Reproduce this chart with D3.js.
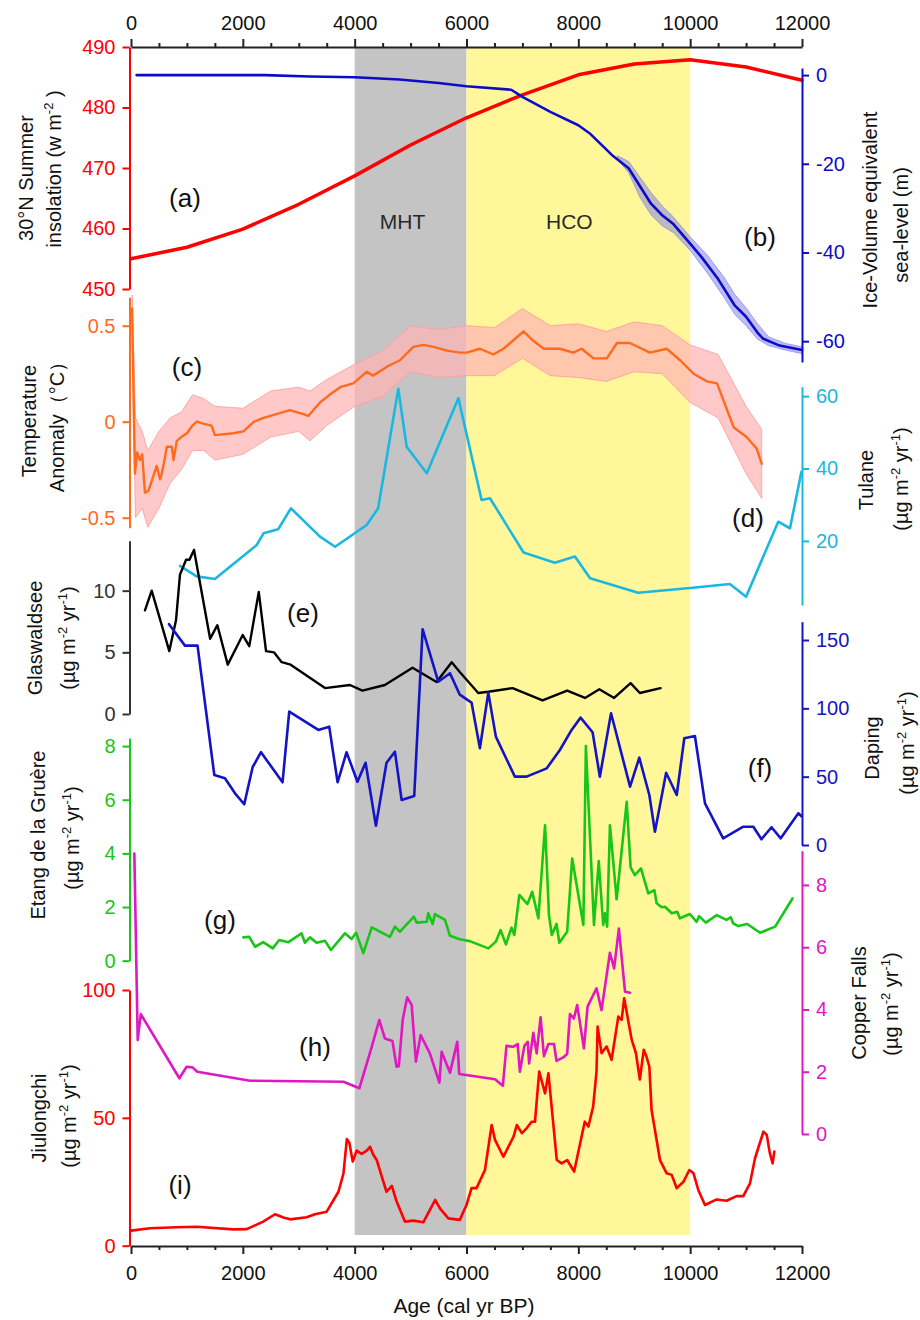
<!DOCTYPE html>
<html>
<head>
<meta charset="utf-8">
<script src="https://cdn.jsdelivr.net/npm/d3@7"></script>
<style>
  body { margin: 0; background: #fff; }
  svg { display: block; }
  text { font-family: "Liberation Sans", Arial, sans-serif; }
</style>
</head>
<body>
<svg id="chart" width="920" height="1320"></svg>
<script>
// ---- Data (age in cal yr BP, value) ----
const xTicks = [0, 2000, 4000, 6000, 8000, 10000, 12000];
const periods = [
  { name: "MHT", from: 4000, to: 6000, fill: "#c4c4c4" },
  { name: "HCO", from: 6000, to: 10000, fill: "#fff799" }
];

// (a) 30°N summer insolation (W m-2)
const insolation = [[0,455],[1000,456.9],[2000,459.9],[3000,464],[4000,468.7],[5000,473.8],[6000,478.3],
  [7000,482.1],[8000,485.4],[9000,487.2],[10000,487.9],[11000,486.7],[12000,484.5]];
const insolationTicks = [450, 460, 470, 480, 490];

// (b) ice-volume equivalent sea level (m) and its uncertainty envelope [age, low, high]
const seaLevel = [[100,0],[1000,0],[2400,0],[3200,-0.3],[4000,-0.5],[4800,-1],[5500,-1.8],[6000,-2.5],[6800,-3.3],
  [7000,-4.9],[7500,-8.3],[8000,-11.3],[8200,-13.1],[8600,-18],[8900,-21],[9100,-25],[9300,-29],[9500,-31.6],
  [9700,-33.6],[10000,-38],[10200,-41],[10500,-46],[10800,-52],[11000,-54.5],[11200,-58],[11300,-59.4],
  [11600,-61],[12000,-62]];
const seaLevelBand = [[8700,-19,-18.2],[8900,-22,-19.5],[9100,-27.5,-23],[9300,-31.5,-26.5],[9500,-34,-29.5],
  [9700,-35.5,-32],[10000,-39.5,-36.5],[10300,-44.5,-40.5],[10600,-50,-45.5],[10800,-54,-49.5],[11000,-56.5,-52.5],
  [11200,-59.5,-56],[11400,-61,-59],[11700,-62,-60.5],[12000,-62.8,-61.3]];
const seaLevelTicks = [0, -20, -40, -60];

// (c) temperature anomaly (°C) and envelope [age, low, high]
const temperature = [[20,0.59],[70,-0.27],[110,-0.16],[160,-0.2],[200,-0.17],[250,-0.37],[310,-0.36],[380,-0.3],
  [460,-0.23],[520,-0.3],[550,-0.27],[600,-0.2],[640,-0.13],[730,-0.13],[760,-0.2],[820,-0.10],[900,-0.08],
  [1000,-0.06],[1100,-0.02],[1175,0.0],[1290,-0.01],[1440,-0.02],[1500,-0.07],[1830,-0.06],[2010,-0.05],
  [2200,0.0],[2370,0.02],[2600,0.04],[2840,0.06],[3080,0.04],[3170,0.03],[3380,0.10],[3550,0.14],[3740,0.18],
  [3975,0.20],[4215,0.26],[4330,0.24],[4600,0.29],[4810,0.32],[5050,0.39],[5230,0.40],[5410,0.39],[5650,0.37],
  [5880,0.36],[6000,0.36],[6240,0.38],[6480,0.35],[6660,0.38],[7020,0.47],[7200,0.42],[7380,0.38],[7670,0.38],
  [7910,0.36],[8060,0.38],[8270,0.33],[8510,0.33],[8690,0.41],[8920,0.41],[9280,0.36],[9580,0.38],[9820,0.32],
  [10060,0.25],[10300,0.21],[10480,0.20],[10780,-0.03],[11010,-0.08],[11190,-0.14],[11280,-0.22]];
const temperatureBand = [[20,0.45,0.66],[80,-0.50,0.02],[200,-0.45,-0.05],[300,-0.55,-0.15],[500,-0.45,-0.05],
  [700,-0.32,0.02],[900,-0.25,0.05],[1100,-0.15,0.14],[1300,-0.15,0.12],[1500,-0.20,0.08],[2000,-0.17,0.07],
  [2500,-0.08,0.16],[3000,-0.05,0.18],[3200,-0.10,0.16],[3500,-0.02,0.22],[4000,0.08,0.30],[4500,0.13,0.37],
  [5000,0.26,0.50],[5500,0.23,0.48],[6000,0.24,0.50],[6500,0.24,0.49],[7000,0.33,0.59],[7500,0.24,0.50],
  [8000,0.23,0.51],[8500,0.21,0.47],[9000,0.26,0.52],[9500,0.25,0.50],[10000,0.10,0.40],[10500,0.02,0.35],
  [11000,-0.27,0.08],[11280,-0.40,-0.04]];
const temperatureTicks = [-0.5, 0, 0.5];

// (d) Tulane (µg m-2 yr-1)
const tulane = [[876,13.1],[1175,10.2],[1500,9.5],[2250,18.9],[2370,22.1],[2630,23.2],[2860,29.0],[3380,21.2],
  [3650,18.4],[4215,24.4],[4420,29.0],[4780,62],[4930,46],[5290,38.7],[5855,59.4],[6270,31.3],[6420,31.8],
  [6660,25.8],[7020,16.8],[7580,14.0],[7940,15.7],[8210,9.7],[9070,5.7],[10000,7.0],[10710,8.1],[11000,4.6],
  [11575,25.3],[11785,23.5],[11990,39.1]];
const tulaneTicks = [20, 40, 60];

// (e) Glaswaldsee (µg m-2 yr-1)
const glaswaldsee = [[250,8.4],[370,10],[685,5.1],[805,7.6],[876,11.3],[985,12.5],[1045,12.5],[1127,13.3],
  [1415,6.1],[1545,7.2],[1730,4.0],[1998,6.4],[2115,5.5],[2285,9.9],[2415,5.1],[2557,5.0],[2695,4.2],[2855,4.0],
  [3470,2.1],[3915,2.35],[4140,1.9],[4540,2.35],[5035,3.75],[5465,2.6],[5735,4.2],[5880,3.4],[6210,1.7],
  [6390,1.8],[6825,2.1],[7360,1.1],[7800,1.9],[8120,1.3],[8375,2.0],[8640,1.3],[8935,2.5],[9100,1.7],[9470,2.1]];
const glaswaldseeTicks = [0, 5, 10];

// (f) Daping (µg m-2 yr-1)
const daping = [[680,161.6],[965,145.9],[1190,145.9],[1490,51.2],[1680,48.8],[1860,37.8],[2025,29.8],[2175,56.9],
  [2325,67.9],[2710,45.9],[2830,97.6],[3350,84.2],[3545,86.6],[3695,45.9],[3855,67.9],[4050,46.3],[4195,60.2],
  [4380,14.1],[4570,60.2],[4720,68.3],[4840,32.9],[5065,35.9],[5215,157.9],[5495,119.5],[5705,125.7],[5880,110],
  [6090,104.2],[6240,70.8],[6390,111.5],[6525,79.3],[6865,50.0],[7075,50.0],[7435,56.1],[7670,69.5],[7880,84.2],
  [8040,93.2],[8255,82.5],[8385,50.0],[8585,96.4],[8925,42.7],[9090,63.9],[9270,36.6],[9370,9.7],[9570,52.9],
  [9760,36.6],[9895,78.1],[10085,79.8],[10265,30.5],[10590,4.9],[10950,13.4],[11130,13.4],[11275,4.2],
  [11455,13.0],[11620,4.9],[11935,23.2],[11990,21]];
const dapingTicks = [0, 50, 100, 150];

// (g) Etang de la Gruère (µg m-2 yr-1)
const etang = [[2010,0.87],[2115,0.89],[2220,0.52],[2365,0.69],[2535,0.46],[2650,0.77],[2815,0.69],[3050,1.02],
  [3110,0.67],[3200,0.87],[3320,0.67],[3470,0.74],[3575,0.40],[3825,1.02],[3945,0.81],[4025,1.04],[4155,0.28],
  [4305,1.24],[4630,0.89],[4720,1.27],[4810,1.08],[5060,1.64],[5110,1.42],[5290,1.45],[5315,1.77],[5395,1.37],
  [5435,1.74],[5615,1.52],[5705,0.93],[5880,0.80],[6060,0.73],[6390,0.46],[6525,0.71],[6610,1.14],[6705,0.61],
  [6805,1.23],[6855,0.96],[6945,2.45],[7090,2.11],[7175,2.57],[7285,1.58],[7405,5.05],[7475,1.70],[7525,0.96],
  [7610,1.37],[7660,0.67],[7800,1.08],[7890,3.81],[8090,1.33],[8135,8.0],[8280,1.33],[8365,3.71],[8445,1.33],
  [8475,1.77],[8515,1.27],[8565,5.05],[8685,2.29],[8865,5.92],[8935,3.48],[9010,3.19],[9120,3.44],[9250,2.51],
  [9360,2.63],[9400,2.14],[9490,1.99],[9550,2.01],[9670,1.77],[9770,1.82],[9815,1.58],[9995,1.74],[10115,1.45],
  [10160,1.66],[10280,1.42],[10475,1.70],[10650,1.52],[10725,1.62],[10770,1.39],[10860,1.29],[11020,1.37],
  [11250,1.04],[11520,1.27],[11830,2.32]];
const etangTicks = [0, 2, 4, 6, 8];

// (h) Copper Falls (µg m-2 yr-1)
const copperFalls = [[60,9.01],[120,3.02],[175,3.85],[865,1.79],[995,2.16],[1100,2.14],[1185,2.0],[2130,1.71],
  [3800,1.68],[4085,1.47],[4305,2.80],[4440,3.66],[4540,3.07],[4675,2.99],[4750,2.16],[4790,2.18],[4860,3.68],
  [4940,4.39],[5020,4.14],[5095,2.32],[5180,3.18],[5345,2.59],[5515,1.65],[5555,2.64],[5705,1.97],[5835,2.96],
  [5870,1.93],[6510,1.76],[6650,1.55],[6715,2.83],[6835,2.80],[6915,2.89],[6955,2.0],[7035,2.83],[7095,2.96],
  [7120,2.27],[7195,3.25],[7255,2.59],[7325,3.75],[7385,2.50],[7465,2.89],[7565,2.89],[7610,2.35],[7730,2.46],
  [7800,2.57],[7850,3.85],[7920,3.71],[7980,4.14],[8100,2.75],[8165,4.09],[8325,4.68],[8415,3.98],[8565,5.82],
  [8640,5.32],[8725,6.60],[8835,4.57],[8925,4.54]];
const copperTicks = [0, 2, 4, 6, 8];

// (i) Jiulongchi (µg m-2 yr-1)
const jiulongchi = [[0,5.9],[340,6.8],[815,7.2],[1175,7.4],[1830,6.4],[2070,6.5],[2365,9.4],[2575,12.3],
  [2725,11.0],[2845,10.3],[3140,11.1],[3290,12.3],[3500,13.3],[3710,21.1],[3800,28.3],[3860,41.7],[3905,40.3],
  [3965,32.9],[4035,37.2],[4125,35.9],[4215,37.2],[4275,38.7],[4335,35.5],[4395,33.5],[4485,27.0],[4570,21.1],
  [4665,23.4],[4740,17.9],[4900,9.4],[5050,9.8],[5230,9.2],[5440,17.9],[5525,14.6],[5675,10.7],[5880,10.1],
  [6000,15.9],[6090,22.5],[6180,22.5],[6330,29.6],[6450,47.2],[6510,41.4],[6660,34.8],[6840,42.6],[6900,47.2],
  [6990,44.0],[7075,45.9],[7165,48.5],[7225,48.5],[7300,68.1],[7405,59.6],[7465,67.4],[7615,33.5],[7700,32.2],
  [7800,33.5],[7925,29.0],[8115,48.5],[8180,46.6],[8265,54.4],[8325,68.1],[8345,85.7],[8415,75.3],[8505,77.9],
  [8595,72.7],[8715,89.6],[8775,88.3],[8820,96.8],[8890,88.3],[8955,80.5],[9030,75.3],[9100,65],[9170,76.6],
  [9220,73.9],[9270,70.0],[9310,53.1],[9460,33.5],[9580,28.3],[9670,27.7],[9760,22.5],[9880,25.0],[9985,29.6],
  [10060,28.3],[10145,21.8],[10265,15.9],[10475,18.1],[10650,17.6],[10830,19.4],[10950,19.4],[11070,24.4],
  [11160,34.2],[11310,44.6],[11370,43.3],[11425,36.2],[11475,32.2],[11505,36.8]];
const jiulongchiTicks = [0, 50, 100];

// ---- Layout ----
const svg = d3.select("#chart");
const FONT = '"Liberation Sans", Arial, sans-serif';
const X_LEFT = 131, X_RIGHT = 802, Y_TOP = 47, Y_BOTTOM = 1246;
const LEFT_AXIS_X = 129.5, RIGHT_AXIS_X = 802;

const x = d3.scaleLinear().domain([0, 12000]).range([X_LEFT, X_RIGHT]);

const yIns   = d3.scaleLinear().domain([450, 490]).range([289, 47]);
const ySea   = d3.scaleLinear().domain([-64.7, 1.6]).range([362, 68]);
const yTemp  = d3.scaleLinear().domain([-0.552, 0.648]).range([527.7, 297.3]);
const yTul   = d3.scaleLinear().domain([2.3, 62.6]).range([605, 386.7]);
const yGla   = d3.scaleLinear().domain([0, 14.05]).range([714, 540.7]);
const yDap   = d3.scaleLinear().domain([0, 163.4]).range([845, 621.7]);
const yEta   = d3.scaleLinear().domain([0, 8.29]).range([960.7, 738.3]);
const yCop   = d3.scaleLinear().domain([0, 9.1]).range([1134, 850.7]);
const yJiu   = d3.scaleLinear().domain([0, 100]).range([1245.7, 990]);

// ---- Period shading ----
svg.append("g").selectAll("rect").data(periods).join("rect")
  .attr("x", d => x(d.from)).attr("width", d => x(d.to) - x(d.from))
  .attr("y", Y_TOP).attr("height", 1235 - Y_TOP)
  .attr("fill", d => d.fill);

svg.append("g").selectAll("text").data(periods).join("text")
  .attr("x", d => (x(d.from) + x(d.to)) / 2 + (d.name === "HCO" ? -9 : -8))
  .attr("y", 229)
  .attr("text-anchor", "middle").attr("font-size", 21).attr("fill", "#2a2a2a")
  .text(d => d.name);

// ---- Curves ----
function drawLine(data, yScale, color, width) {
  svg.append("path").datum(data)
    .attr("fill", "none").attr("stroke", color).attr("stroke-width", width)
    .attr("stroke-linejoin", "round").attr("stroke-linecap", "round")
    .attr("d", d3.line().x(d => x(d[0])).y(d => yScale(d[1])));
}
function drawBand(data, yScale, fill, opacity, edge) {
  svg.append("path").datum(data)
    .attr("fill", fill).attr("fill-opacity", opacity)
    .attr("stroke", edge).attr("stroke-width", 0.8)
    .attr("d", d3.area().x(d => x(d[0])).y0(d => yScale(d[1])).y1(d => yScale(d[2])));
}

drawLine(insolation, yIns, "#ff0000", 3.5);
drawBand(seaLevelBand, ySea, "#6d6de6", 0.45, "#8c8cf0");
drawLine(seaLevel, ySea, "#0c0cc8", 2.6);
drawBand(temperatureBand, yTemp, "#ffb4b4", 0.72, "#ff9a9a");
drawLine(temperature, yTemp, "#ff6a1c", 2.4);
drawLine(tulane, yTul, "#1ab8e0", 2.6);
drawLine(glaswaldsee, yGla, "#000000", 2.4);
drawLine(daping, yDap, "#1414c4", 2.6);
drawLine(etang, yEta, "#17c617", 2.6);
drawLine(copperFalls, yCop, "#e018c2", 2.6);
drawLine(jiulongchi, yJiu, "#ff0000", 2.6);

// ---- Axes ----
function styleAxis(g, color) {
  g.attr("font-family", FONT).attr("font-size", 20);
  g.select(".domain").attr("stroke", color).attr("stroke-width", 2);
  g.selectAll(".tick line").attr("stroke", color).attr("stroke-width", 2);
  g.selectAll(".tick text").attr("fill", color);
}
function yAxis(scale, side, ticks, color) {
  const gen = (side === "left" ? d3.axisLeft(scale) : d3.axisRight(scale))
    .tickValues(ticks).tickSize(7).tickSizeOuter(0).tickPadding(7)
    .tickFormat(d => String(d));
  const g = svg.append("g")
    .attr("transform", `translate(${side === "left" ? LEFT_AXIS_X : RIGHT_AXIS_X},0)`)
    .call(gen);
  styleAxis(g, color);
}

yAxis(yIns, "left", insolationTicks, "#ff0000");
yAxis(yTemp, "left", temperatureTicks, "#ff6a1c");
yAxis(yGla, "left", glaswaldseeTicks, "#333333");
yAxis(yEta, "left", etangTicks, "#17c617");
yAxis(yJiu, "left", jiulongchiTicks, "#ff0000");
yAxis(ySea, "right", seaLevelTicks, "#0c0cc8");
yAxis(yTul, "right", tulaneTicks, "#1ab8e0");
yAxis(yDap, "right", dapingTicks, "#1414c4");
yAxis(yCop, "right", copperTicks, "#e018c2");

const minorTicks = d3.range(0, 12001, 500).filter(v => v % 2000 !== 0);
function xAxis(gen, yPos, padding) {
  const g = svg.append("g").attr("transform", `translate(0,${yPos})`)
    .call(gen(x).tickValues(xTicks).tickSize(8).tickSizeOuter(0).tickPadding(padding).tickFormat(d => String(d)));
  styleAxis(g, "#222222");
  g.selectAll(".tick text").attr("fill", "#111");
  const m = svg.append("g").attr("transform", `translate(0,${yPos})`)
    .call(gen(x).tickValues(minorTicks).tickSize(4).tickSizeOuter(0).tickFormat(""));
  m.select(".domain").remove();
  m.selectAll(".tick line").attr("stroke", "#222").attr("stroke-width", 2);
}
xAxis(d3.axisTop, Y_TOP, 9);
xAxis(d3.axisBottom, Y_BOTTOM, 12);

svg.append("text").attr("x", 464).attr("y", 1313)
  .attr("text-anchor", "middle").attr("font-size", 21).attr("fill", "#111")
  .text("Age (cal yr BP)");

// ---- Axis titles (rotated) ----
function vTitle(xBase, yCenter, parts) {
  const t = svg.append("text")
    .attr("transform", `translate(${xBase},${yCenter}) rotate(-90)`)
    .attr("text-anchor", "middle").attr("font-size", 20).attr("fill", "#111");
  parts.forEach(p => {
    if (typeof p === "string") t.append("tspan").text(p);
    else {
      t.append("tspan").attr("font-size", 13).attr("dy", -8).text(p.sup);
      t.append("tspan").attr("dy", 8).text(p.after);
    }
  });
}
const unit = ["(µg m", { sup: "-2", after: " yr" }, { sup: "-1", after: ")" }];

vTitle(33, 178, ["30°N Summer"]);
vTitle(61, 169, ["insolation (w m", { sup: "-2", after: " )" }]);
vTitle(36, 421, ["Temperature"]);
vTitle(64, 422, ["Anomaly（°C）"]);
vTitle(42, 638, ["Glaswaldsee"]);
vTitle(75, 638, unit);
vTitle(45, 835, ["Etang de la Gruère"]);
vTitle(79, 838, unit);
vTitle(46, 1118, ["Jiulongchi"]);
vTitle(76, 1116, unit);

vTitle(877, 210, ["Ice-Volume equivalent"]);
vTitle(908, 225, ["sea-level (m)"]);
vTitle(873, 480, ["Tulane"]);
vTitle(908, 479, unit);
vTitle(879, 748, ["Daping"]);
vTitle(914, 743, unit);
vTitle(866, 1003, ["Copper Falls"]);
vTitle(898, 1004, unit);

// ---- Panel letters ----
const panelLabels = [["(a)",185,198],["(b)",760,237],["(c)",187,367],["(d)",748,518],["(e)",303,613],
  ["(f)",760,768],["(g)",220,920],["(h)",315,1047],["(i)",180,1185]];
svg.append("g").selectAll("text").data(panelLabels).join("text")
  .attr("x", d => d[1]).attr("y", d => d[2]).attr("dy", "0.35em")
  .attr("text-anchor", "middle").attr("font-size", 26).attr("fill", "#111")
  .text(d => d[0]);
</script>
</body>
</html>
